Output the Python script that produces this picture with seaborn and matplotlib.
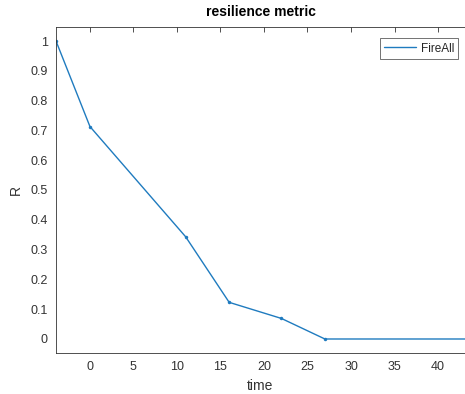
import matplotlib
matplotlib.use("Agg")
import matplotlib.pyplot as plt
import seaborn as sns
import pandas as pd

time = [-3.9, 0, 11, 16, 22, 27, 43.5]
R = [1.0, 0.713, 0.343, 0.123, 0.069, 0.0, 0.0]
series = "FireAll"
xticks = [0, 5, 10, 15, 20, 25, 30, 35, 40]
yticks = [0, 0.1, 0.2, 0.3, 0.4, 0.5, 0.6, 0.7, 0.8, 0.9, 1]

df = pd.DataFrame({"time": time, "R": R, "series": series})

sns.set_style("white")
plt.rcParams["font.family"] = ["Liberation Sans", "DejaVu Sans"]

fig = plt.figure(figsize=(4.65, 3.94), dpi=100)
ax = fig.add_axes([56/465, 41/394, 1 - 56/465, 326/394])

sns.lineplot(data=df, x="time", y="R", hue="series", palette=["#1f7bbf"],
             marker="o", markersize=2.5, markeredgewidth=0, linewidth=1.0, ax=ax)

ax.set_xlim(-3.9, 43.1)
ax.set_ylim(-0.047, 1.047)
ax.set_xticks(xticks)
ax.set_xticklabels([str(t) for t in xticks])
ax.set_yticks(yticks)
ax.set_yticklabels([("%g" % t) for t in yticks])

gray = "#333333"
ax.tick_params(direction="in", length=3.5, width=0.6, colors=gray, labelsize=9,
               top=True, right=False, pad=6)
for s in ["left", "bottom", "top"]:
    ax.spines[s].set_color(gray)
    ax.spines[s].set_linewidth(0.6)
ax.spines["right"].set_visible(False)

ax.set_xlabel("time", fontsize=10, color=gray, labelpad=4)
ax.set_ylabel("R", fontsize=10, color=gray, labelpad=5)
ax.set_title("resilience metric", fontsize=10, fontweight="bold", color="black", pad=8)

leg = ax.legend(loc="upper right", bbox_to_anchor=(0.983, 0.965), frameon=True,
                fancybox=False, fontsize=8.5, handlelength=2.7, handletextpad=0.4,
                borderpad=0.35, borderaxespad=0)
leg.get_frame().set_edgecolor(gray)
leg.get_frame().set_linewidth(0.6)
for h in leg.legend_handles:
    h.set_marker("")

fig.savefig("out.png", dpi=100)
